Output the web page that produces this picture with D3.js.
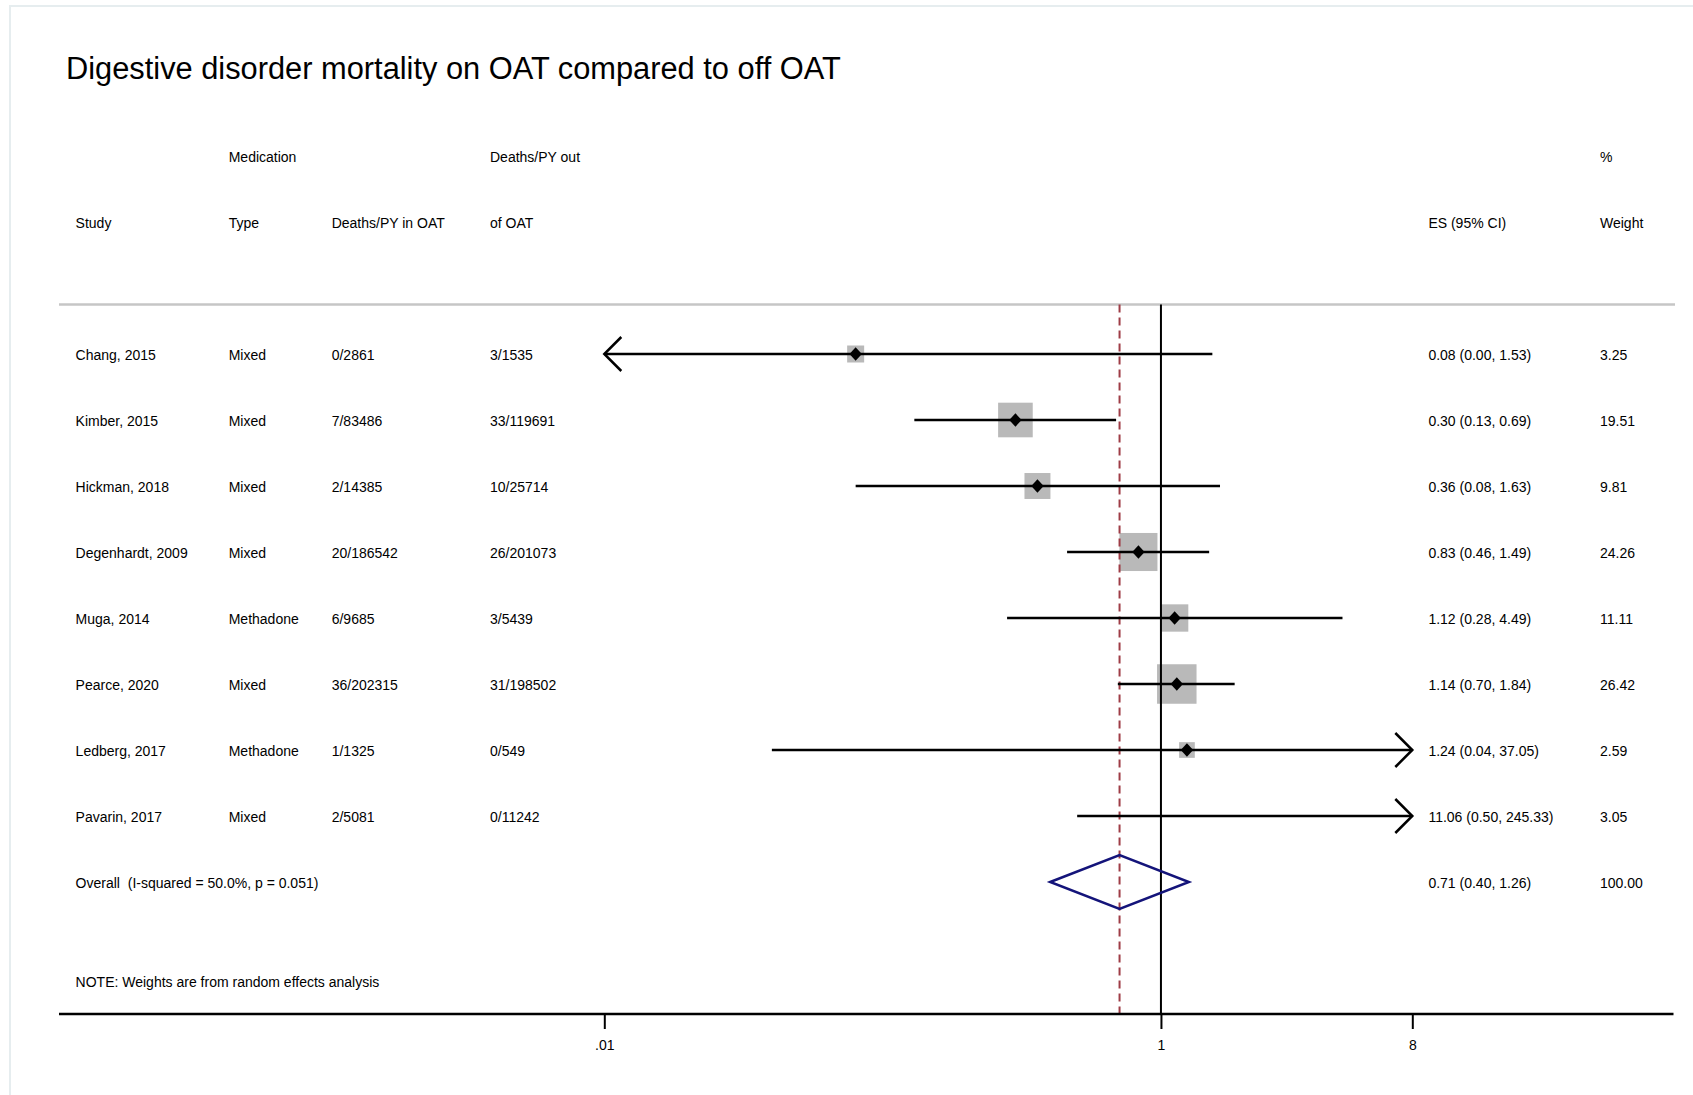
<!DOCTYPE html>
<html>
<head>
<meta charset="utf-8">
<script src="https://cdn.jsdelivr.net/npm/d3@7"></script>
<style>
  body { margin: 0; background: #fff; }
  svg { display: block; font-family: "Liberation Sans", Arial, sans-serif; }
</style>
</head>
<body>
<svg id="chart" width="1693" height="1095"></svg>
<script>
// ---------------- data ----------------
const studies   = ["Chang, 2015", "Kimber, 2015", "Hickman, 2018", "Degenhardt, 2009", "Muga, 2014", "Pearce, 2020", "Ledberg, 2017", "Pavarin, 2017"];
const medTypes  = ["Mixed", "Mixed", "Mixed", "Mixed", "Methadone", "Mixed", "Methadone", "Mixed"];
const deathsIn  = ["0/2861", "7/83486", "2/14385", "20/186542", "6/9685", "36/202315", "1/1325", "2/5081"];
const deathsOut = ["3/1535", "33/119691", "10/25714", "26/201073", "3/5439", "31/198502", "0/549", "0/11242"];
const esValues  = [0.08, 0.30, 0.36, 0.83, 1.12, 1.14, 1.24, 11.06];
const ciLow     = [0.00, 0.13, 0.08, 0.46, 0.28, 0.70, 0.04, 0.50];
const ciHigh    = [1.53, 0.69, 1.63, 1.49, 4.49, 1.84, 37.05, 245.33];
const weights   = [3.25, 19.51, 9.81, 24.26, 11.11, 26.42, 2.59, 3.05];

const overallLabel  = "Overall  (I-squared = 50.0%, p = 0.051)";
const overallES     = [0.71, 0.40, 1.26];   // estimate, low, high
const overallWeight = "100.00";

const headerRow1 = ["", "Medication", "", "Deaths/PY out", "", "%"];
const headerRow2 = ["Study", "Type", "Deaths/PY in OAT", "of OAT", "ES (95% CI)", "Weight"];

const tickValues = [0.01, 1, 8];
const tickLabels = [".01", "1", "8"];

const titleText = "Digestive disorder mortality on OAT compared to off OAT";
const noteText  = "NOTE: Weights are from random effects analysis";

// ---------------- layout ----------------
const svg = d3.select("#chart");
const W = 1693, H = 1095;
const colX = [75.6, 228.7, 331.7, 490, 1428.4, 1600];
const fs = 14;
const txt = "#000";

const x = d3.scaleLog().domain([0.01, 8]).range([604.3, 1412.3]);
const y = d3.scaleLinear().domain([-3, 8]).range([156, 882]);
const side = d3.scalePow().exponent(0.5).domain([0, d3.max(weights)]).range([4.85, 39.5]);
const fmt = d3.format(".2f");

const plotTop = y(-0.75), axisY = y(10);
const [xMin, xMax] = x.domain();

svg.append("rect").attr("width", W).attr("height", H).attr("fill", "#fff");

// frame
svg.append("rect").attr("x", 10).attr("y", 6).attr("width", W + 20).attr("height", H + 20)
  .attr("fill", "none").attr("stroke", "#e6edef").attr("stroke-width", 2);

// title
svg.append("text").attr("x", 66).attr("y", 78.5).attr("font-size", 30.8).attr("fill", txt).text(titleText);

// headers
function addRowText(vals, row) {
  vals.forEach((v, j) => {
    if (!v) return;
    svg.append("text").attr("x", colX[j]).attr("y", y(row)).attr("dy", "0.4em")
      .attr("font-size", fs).attr("fill", txt).style("white-space", "pre").text(v);
  });
}
addRowText(headerRow1, -3);
addRowText(headerRow2, -2);

// separator line
svg.append("line").attr("x1", 59).attr("x2", 1675).attr("y1", plotTop).attr("y2", plotTop)
  .attr("stroke", "#c6c6c6").attr("stroke-width", 2.5);

// weight boxes
studies.forEach((s, i) => {
  const e = esValues[i];
  if (e < xMin || e > xMax) return;
  const a = side(weights[i]);
  svg.append("rect").attr("x", x(e) - a / 2).attr("y", y(i) - a / 2)
    .attr("width", a).attr("height", a).attr("fill", "#b9b9b9");
});

// reference lines
svg.append("line").attr("x1", x(1)).attr("x2", x(1)).attr("y1", plotTop).attr("y2", axisY)
  .attr("stroke", "#000").attr("stroke-width", 2);
svg.append("line").attr("x1", x(overallES[0])).attr("x2", x(overallES[0])).attr("y1", plotTop).attr("y2", axisY)
  .attr("stroke", "#9e3c46").attr("stroke-width", 2).attr("stroke-dasharray", "8,5");

// CI lines, arrows, markers
const arm = 17;
studies.forEach((s, i) => {
  const yy = y(i);
  const lo = Math.max(ciLow[i], xMin), hi = Math.min(ciHigh[i], xMax);
  const x1 = x(lo), x2 = x(hi);
  svg.append("line").attr("x1", x1).attr("x2", x2).attr("y1", yy).attr("y2", yy)
    .attr("stroke", "#000").attr("stroke-width", 2.5);
  if (ciLow[i] < xMin) {
    svg.append("path").attr("d", `M${x1 + arm},${yy - arm}L${x1},${yy}L${x1 + arm},${yy + arm}`)
      .attr("fill", "none").attr("stroke", "#000").attr("stroke-width", 2.5);
  }
  if (ciHigh[i] > xMax) {
    svg.append("path").attr("d", `M${x2 - arm},${yy - arm}L${x2},${yy}L${x2 - arm},${yy + arm}`)
      .attr("fill", "none").attr("stroke", "#000").attr("stroke-width", 2.5);
  }
  const e = esValues[i];
  if (e >= xMin && e <= xMax) {
    const cx = x(e);
    svg.append("path").attr("d", `M${cx - 6.2},${yy}L${cx},${yy - 6.7}L${cx + 6.2},${yy}L${cx},${yy + 6.7}Z`)
      .attr("fill", "#000");
  }
  addRowText([s, medTypes[i], deathsIn[i], deathsOut[i],
    `${fmt(e)} (${fmt(ciLow[i])}, ${fmt(ciHigh[i])})`, fmt(weights[i])], i);
});

// overall diamond
const yo = y(8);
svg.append("path")
  .attr("d", `M${x(overallES[1])},${yo}L${x(overallES[0])},${yo - 27}L${x(overallES[2])},${yo}L${x(overallES[0])},${yo + 27}Z`)
  .attr("fill", "none").attr("stroke", "#14147a").attr("stroke-width", 2.5).attr("stroke-linejoin", "miter");
addRowText([overallLabel, "", "", "",
  `${fmt(overallES[0])} (${fmt(overallES[1])}, ${fmt(overallES[2])})`, overallWeight], 8);

// note
svg.append("text").attr("x", colX[0]).attr("y", y(9.5)).attr("dy", "0.4em")
  .attr("font-size", fs).attr("fill", txt).text(noteText);

// x axis
svg.append("line").attr("x1", 59).attr("x2", 1673.5).attr("y1", axisY).attr("y2", axisY)
  .attr("stroke", "#000").attr("stroke-width", 2.5);
const axis = d3.axisBottom(x).tickValues(tickValues)
  .tickFormat((d, i) => tickLabels[i]).tickSize(15).tickPadding(11);
const gx = svg.append("g").attr("transform", `translate(0,${axisY})`).call(axis);
gx.select(".domain").remove();
gx.selectAll(".tick line").attr("stroke", "#000").attr("stroke-width", 2);
gx.selectAll(".tick text").attr("font-size", fs).attr("fill", txt)
  .attr("font-family", '"Liberation Sans", Arial, sans-serif');
</script>
</body>
</html>
